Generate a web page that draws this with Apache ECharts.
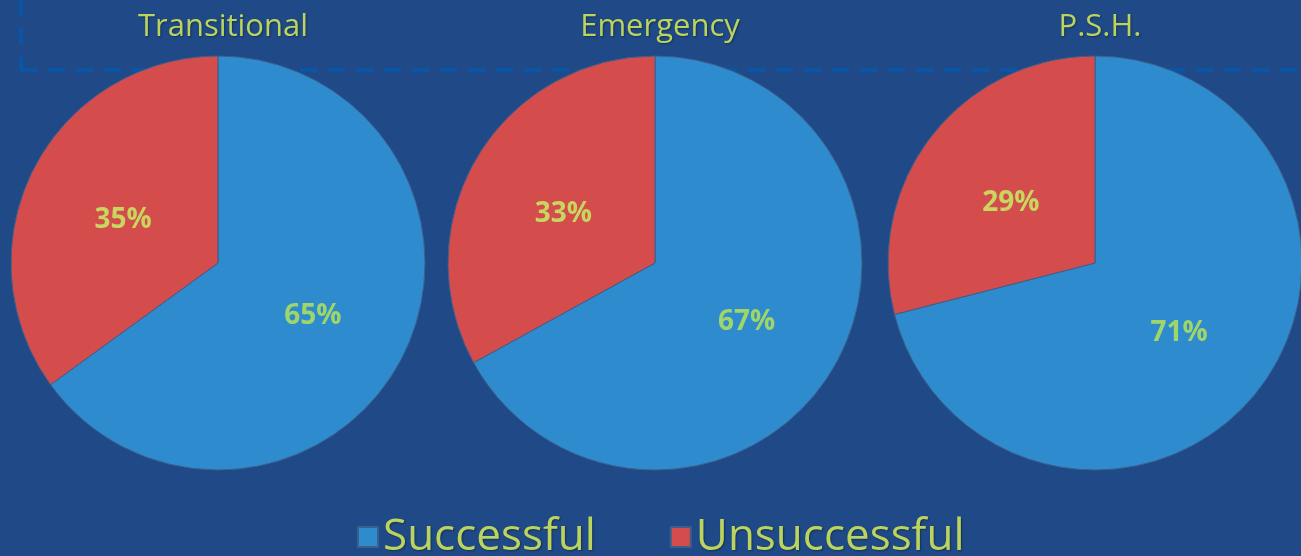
<!DOCTYPE html>
<html><head><meta charset="utf-8">
<script src="https://cdn.jsdelivr.net/npm/echarts@6/dist/echarts.min.js"></script>
<style>html,body{margin:0;padding:0;background:#1f4a87;}#c{width:1301px;height:556px;}</style>
</head><body><div id="c"></div>
<script>
const categories = ['Transitional', 'Emergency', 'P.S.H.'];
const successful = [65, 67, 71];
const unsuccessful = [35, 33, 29];
const seriesNames = ['Successful', 'Unsuccessful'];

const centersX = [218, 655, 1095];
const colors = ['#2e8bce', '#d44c4c'];
const labelColors = ['#9fd66a', '#c8d660'];

const chart = echarts.init(document.getElementById('c'));
const series = categories.map((cat, i) => ({
  type: 'pie',
  name: cat,
  center: [centersX[i], 263],
  radius: [0, 207],
  startAngle: 90,
  clockwise: true,
  animation: false,
  silent: true,
  itemStyle: { borderColor: '#3d5f8c', borderWidth: 1 },
  label: {
    show: true, position: 'inside', formatter: '{c}%',
    fontFamily: 'Open Sans', fontWeight: 'bold', fontSize: 28, offset: [0, 5]
  },
  labelLine: { show: false },
  data: [
    { name: seriesNames[0], value: successful[i], itemStyle: { color: colors[0] }, label: { color: labelColors[0] } },
    { name: seriesNames[1], value: unsuccessful[i], itemStyle: { color: colors[1] }, label: { color: labelColors[1] } }
  ]
}));

chart.setOption({
  backgroundColor: '#1f4a87',
  animation: false,
  title: categories.map((cat, i) => ({
    text: cat,
    left: centersX[i], top: 7, textAlign: 'center',
    textStyle: { color: '#bcd45e', fontFamily: 'Open Sans', fontWeight: 'normal', fontSize: 31,
      textShadowColor: 'rgba(0,0,0,0.35)', textShadowBlur: 2, textShadowOffsetX: 1, textShadowOffsetY: 1 }
  })),
  legend: {
    data: seriesNames,
    top: 510, left: 352,
    icon: 'rect', itemWidth: 20, itemHeight: 20, itemGap: 74,
    textStyle: { color: '#bcd45e', fontFamily: 'Open Sans', fontSize: 44,
      textShadowColor: 'rgba(0,0,0,0.35)', textShadowBlur: 2, textShadowOffsetX: 1, textShadowOffsetY: 1 },
    selectedMode: false
  },
  graphic: [
    { type: 'line', shape: { x1: 21, y1: 0, x2: 21, y2: 70 }, style: { stroke: '#0b55a6', lineWidth: 4, lineDash: [16, 12] }, silent: true },
    { type: 'line', shape: { x1: 20, y1: 70, x2: 1301, y2: 70 }, style: { stroke: '#0b55a6', lineWidth: 4, lineDash: [17, 11] }, silent: true, z: -1 }
  ],
  series: series
});
</script></body></html>
